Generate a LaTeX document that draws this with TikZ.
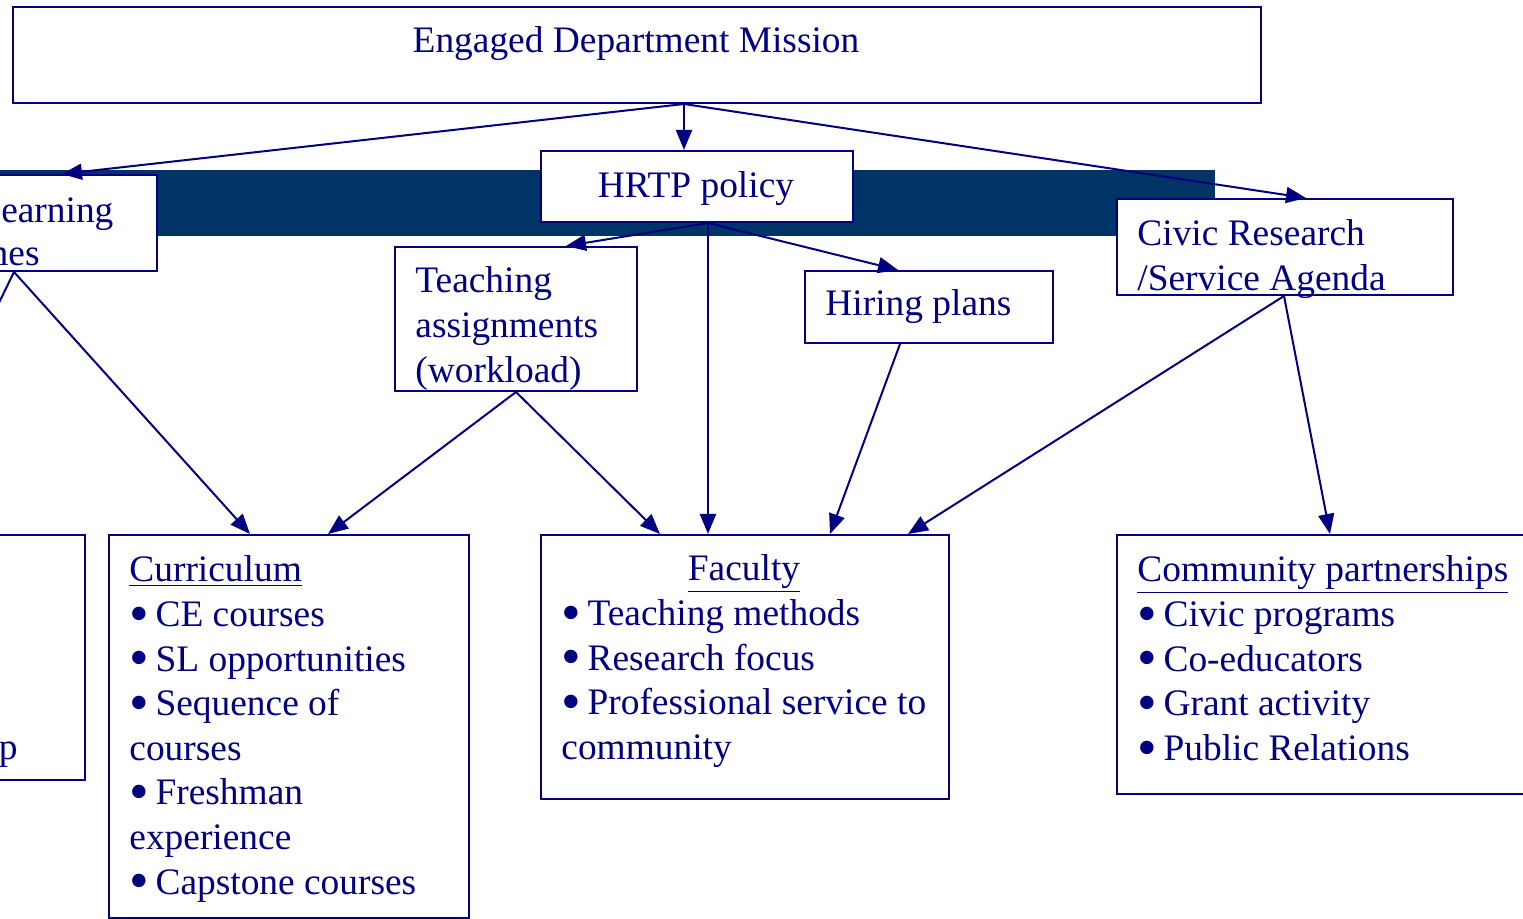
\documentclass[tikz,border=0pt]{standalone}
\usepackage{fontspec}
\setmainfont{Liberation Serif}
\usetikzlibrary{arrows.meta}
\usetikzlibrary{calc}
\definecolor{navy}{RGB}{0,0,128}
\definecolor{band}{RGB}{0,51,102}
\tikzset{
  box/.style={draw=navy, line width=1pt, fill=white, inner sep=0pt, anchor=north west},
  txt/.style={text=navy, inner sep=0pt, font=\fontsize{18.7}{22.4}\selectfont},
  link/.style={draw=navy, line width=1pt, -{Triangle[length=10pt,width=8pt]}},
}
% box of given size (in pixels), top left corner at (x,y)
\newcommand{\pxbox}[5]{\node[box, minimum width=#4*0.5pt, minimum height=#5*0.5pt] (#1) at (#2,#3) {};}
% large bullet as in the slide
\newcommand{\bull}{\makebox[0.7em][l]{\smash{\raisebox{-0.15em}{\scalebox{1.5}{\textbullet}}}}}

\begin{document}
\begin{tikzpicture}[x=0.5pt,y=-0.5pt]
  \useasboundingbox (0,0) rectangle (1523,919);
  \pgfmathsetmacro{\ls}{44.6}

  % dark band behind the middle row
  \fill[band] (0,170) rectangle (1215,236);

  % boxes
  \pxbox{mission}{12}{6}{1248}{96}
  \pxbox{hrtp}{540}{150}{312}{71}
  \pxbox{outcomes}{-40}{174}{196}{96}
  \pxbox{teaching}{394}{246}{242}{144}
  \pxbox{hiring}{804}{270}{248}{72}
  \pxbox{civic}{1116}{198}{336}{96}
  \pxbox{leader}{-250}{534}{334}{245}
  \pxbox{curric}{108}{534}{360}{383}
  \pxbox{faculty}{540}{534}{408}{264}
  \pxbox{community}{1116}{534}{450}{259}

  % connectors
  \coordinate (mission-out) at ($(mission.south west)+(672,0)$);
  \coordinate (hrtp-out) at ($(hrtp.south west)+(168,0)$);
  \coordinate (outcomes-out) at ($(outcomes.south west)+(54,0)$);
  \coordinate (teaching-out) at ($(teaching.south west)+(122,0)$);
  \coordinate (hiring-out) at ($(hiring.south west)+(96,0)$);
  \coordinate (civic-out) at ($(civic.south west)+(168,0)$);

  \draw[link] (mission-out) -- ($(outcomes.north west)+(102,0)$);
  \draw[link] (mission-out) -- ($(hrtp.north west)+(144,0)$);
  \draw[link] (mission-out) -- ($(civic.north west)+(190,0)$);
  \draw[link] (hrtp-out) -- ($(teaching.north west)+(172,0)$);
  \draw[link] (hrtp-out) -- ($(hiring.north west)+(94,0)$);
  \draw[link] (hrtp-out) -- ($(faculty.north west)+(168,0)$);
  \draw[link] (outcomes-out) -- ($(leader.north west)+(136,0)$);
  \draw[link] (outcomes-out) -- ($(curric.north west)+(142,0)$);
  \draw[link] (teaching-out) -- ($(curric.north west)+(220,0)$);
  \draw[link] (teaching-out) -- ($(faculty.north west)+(120,0)$);
  \draw[link] (hiring-out) -- ($(faculty.north west)+(290,0)$);
  \draw[link] (civic-out) -- ($(faculty.north west)+(368,0)$);
  \draw[link] (civic-out) -- ($(community.north west)+(214,0)$);

  % texts
  \node[txt, anchor=base] (mission-t) at (636,53) {Engaged Department Mission};
  \node[txt, anchor=base] (hrtp-t) at (696,198) {HRTP policy};
  \node[txt, anchor=base west] (outcomes-t1) at (-22,223) {Learning};
  \node[txt, anchor=base east] (outcomes-t2) at (40,266) {Outcomes};
  \foreach \t [count=\i from 0] in {Teaching, assignments, (workload)}
    \node[txt, anchor=base west] (teaching-t\i) at (415,293+\i*\ls) {\t};
  \node[txt, anchor=base west] (hiring-t) at (825,316) {Hiring plans};
  \foreach \t [count=\i from 0] in {Civic Research, /Service Agenda}
    \node[txt, anchor=base west] (civic-t\i) at (1137,246+\i*\ls) {\t};
  \node[txt, anchor=base east] (leader-t) at (18,760) {Leadership};

  \foreach \t [count=\i from 0] in {{\underline{Curriculum}}, {\bull CE courses},
      {\bull SL opportunities}, {\bull Sequence of}, courses,
      {\bull Freshman}, experience, {\bull Capstone courses}}
    \node[txt, anchor=base west] (curric-t\i) at (129,582+\i*\ls) {\t};

  \node[txt, anchor=base] (faculty-t0) at (744,581) {\underline{Faculty}};
  \foreach \t [count=\i from 1] in {{\bull Teaching methods}, {\bull Research focus},
      {\bull Professional service to}, community}
    \node[txt, anchor=base west] (faculty-t\i) at (561,581+\i*\ls) {\t};

  \foreach \t [count=\i from 0] in {{\underline{Community partnerships}}, {\bull Civic programs},
      {\bull Co-educators}, {\bull Grant activity}, {\bull Public Relations}}
    \node[txt, anchor=base west] (community-t\i) at (1137,582+\i*\ls) {\t};
\end{tikzpicture}
\end{document}
